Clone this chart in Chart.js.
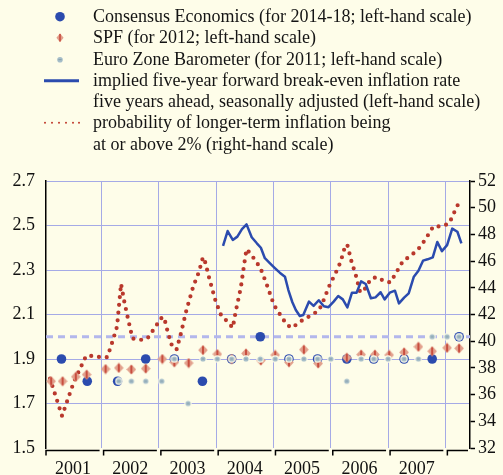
<!DOCTYPE html>
<html>
<head>
<meta charset="utf-8">
<script src="https://cdn.jsdelivr.net/npm/chart.js@4/dist/chart.umd.min.js"></script>
<style>
  html, body { margin: 0; padding: 0; background: #FEFDE9; }
  #wrap { position: relative; width: 503px; height: 475px; overflow: hidden; background: #FEFDE9; }
  #chart { position: absolute; left: 0; top: 0; }
  #legend { position: absolute; left: 0; top: 6px; font-family: "Liberation Serif", "Times New Roman", serif;
            font-size: 18px; line-height: 21.3px; color: #141414; }
  .row { position: relative; height: 21.3px; padding-left: 93px; white-space: nowrap; }
  .row svg { position: absolute; top: 0; left: 0; }
</style>
</head>
<body>
<div id="wrap">
  <canvas id="chart" width="503" height="475"></canvas>
  <div id="legend">
    <div class="row"><svg width="90" height="22"><circle cx="60" cy="10.7" r="4.8" fill="#2B4BAE"/></svg>Consensus Economics (for 2014-18; left-hand scale)</div>
    <div class="row"><svg width="90" height="22"><polygon points="60,6.2 63.6,10.7 60,15.2 56.4,10.7" fill="#E2A08C"/><line x1="60" y1="7" x2="60" y2="14.4" stroke="#C23A2C" stroke-width="1.3"/></svg>SPF (for 2012; left-hand scale)</div>
    <div class="row"><svg width="90" height="22"><circle cx="60" cy="10.7" r="2.8" fill="#A6BEC9"/><line x1="58.4" y1="10.7" x2="61.6" y2="10.7" stroke="#7F98A6" stroke-width="0.9"/></svg>Euro Zone Barometer (for 2011; left-hand scale)</div>
    <div class="row"><svg width="90" height="22"><line x1="44" y1="10.7" x2="79" y2="10.7" stroke="#2B4BAE" stroke-width="3"/></svg>implied five-year forward break-even inflation rate</div>
    <div class="row">five years ahead, seasonally adjusted (left-hand scale)</div>
    <div class="row"><svg width="90" height="22"><g fill="#C0392B"><circle cx="45" cy="10.7" r="1"/><circle cx="52" cy="10.7" r="1"/><circle cx="59" cy="10.7" r="1"/><circle cx="66" cy="10.7" r="1"/><circle cx="73" cy="10.7" r="1"/><circle cx="79" cy="10.7" r="1"/></g></svg>probability of longer-term inflation being</div>
    <div class="row">at or above 2% (right-hand scale)</div>
  </div>
</div>
<script>
// Horizontal axis: decimal years
const xMin = 2001.03;
const xMax = 2008.43;
const yearLabels = [2001, 2002, 2003, 2004, 2005, 2006, 2007];
const yearBoundaries = [2002, 2003, 2004, 2005, 2006, 2007, 2008];

// Tick values
const leftTicks = [1.5, 1.7, 1.9, 2.1, 2.3, 2.5, 2.7];
const rightTicks = [32, 34, 36, 38, 40, 42, 44, 46, 48, 50, 52];

// 2% reference level (left-hand scale)
const referenceLevel = 2.0;

// Consensus Economics (for 2014-18), % p.a.
const consensusDates = [2001.30, 2001.75, 2002.28, 2002.77, 2003.27, 2003.76, 2004.27, 2004.77,
                        2005.27, 2005.77, 2006.28, 2006.75, 2007.28, 2007.77, 2008.24];
const consensusValues = [1.9, 1.8, 1.8, 1.9, 1.9, 1.8, 1.9, 2.0,
                         1.9, 1.9, 1.9, 1.9, 1.9, 1.9, 2.0];

// SPF (for 2012), % p.a.
const spfDates = [2001.12, 2001.32, 2001.55, 2001.74, 2002.07, 2002.30, 2002.52, 2002.77,
                  2003.06, 2003.27, 2003.52, 2003.77, 2004.02, 2004.27, 2004.52, 2004.78,
                  2005.03, 2005.27, 2005.53, 2005.78, 2006.28, 2006.53, 2006.77,
                  2007.02, 2007.28, 2007.53, 2007.77, 2008.03, 2008.24];
const spfValues = [1.80, 1.80, 1.82, 1.83, 1.855, 1.86, 1.853, 1.857,
                   1.90, 1.885, 1.882, 1.94, 1.922, 1.90, 1.925, 1.893,
                   1.918, 1.885, 1.942, 1.88, 1.906, 1.92, 1.92,
                   1.918, 1.93, 1.955, 1.935, 1.95, 1.948];

// Euro Zone Barometer (for 2011), % p.a.
const barometerDates = [2002.30, 2002.52, 2002.77, 2003.05, 2003.27, 2003.51, 2003.77,
                        2004.02, 2004.27, 2004.52, 2004.77, 2005.03, 2005.27, 2005.53, 2005.77,
                        2006.00, 2006.28, 2006.53, 2006.75, 2007.00, 2007.28, 2007.53, 2007.77,
                        2008.03, 2008.24];
const barometerValues = [1.8, 1.8, 1.8, 1.8, 1.9, 1.7, 1.9,
                         1.9, 1.9, 1.9, 1.9, 1.9, 1.9, 1.9, 1.9,
                         1.9, 1.8, 1.9, 1.9, 1.9, 1.9, 1.9, 2.0,
                         2.0, 2.0];

// Implied five-year forward break-even inflation rate five years ahead, s.a., % p.a.
const breakEvenDates = [2004.12, 2004.20, 2004.29, 2004.37, 2004.45, 2004.53, 2004.62, 2004.71,
                        2004.78, 2004.85, 2004.94, 2005.02, 2005.11, 2005.20, 2005.26, 2005.33,
                        2005.39, 2005.46, 2005.52, 2005.62, 2005.70, 2005.79, 2005.88, 2005.96,
                        2006.05, 2006.13, 2006.21, 2006.29, 2006.37, 2006.45, 2006.53, 2006.61,
                        2006.70, 2006.78, 2006.87, 2006.94, 2007.03, 2007.12, 2007.19, 2007.28,
                        2007.36, 2007.45, 2007.53, 2007.61, 2007.69, 2007.78, 2007.86, 2007.94,
                        2008.03, 2008.12, 2008.21, 2008.28];
const breakEvenValues = [2.408, 2.475, 2.435, 2.450, 2.484, 2.505, 2.447, 2.420,
                         2.400, 2.353, 2.330, 2.310, 2.288, 2.270, 2.210, 2.155,
                         2.120, 2.093, 2.098, 2.158, 2.139, 2.164, 2.137, 2.133,
                         2.158, 2.183, 2.168, 2.132, 2.198, 2.198, 2.249, 2.237,
                         2.173, 2.177, 2.200, 2.168, 2.198, 2.207, 2.150, 2.176,
                         2.195, 2.270, 2.297, 2.342, 2.348, 2.357, 2.426, 2.385,
                         2.412, 2.486, 2.472, 2.420];

// Probability of longer-term inflation at or above 2%, %
const probabilityDates = [2001.10, 2001.31, 2001.52, 2001.62, 2001.73, 2001.85, 2001.99, 2002.10,
                          2002.20, 2002.27, 2002.34, 2002.39, 2002.45, 2002.54, 2002.68, 2002.80,
                          2002.96, 2003.03, 2003.09, 2003.16, 2003.24, 2003.31, 2003.38, 2003.48,
                          2003.60, 2003.70, 2003.77, 2003.81, 2003.88, 2003.99, 2004.09, 2004.19,
                          2004.29, 2004.34, 2004.43, 2004.49, 2004.53, 2004.61, 2004.69, 2004.77,
                          2004.87, 2005.01, 2005.16, 2005.24, 2005.33, 2005.44, 2005.56, 2005.68,
                          2005.79, 2005.85, 2005.97, 2006.14, 2006.22, 2006.25, 2006.29, 2006.36,
                          2006.44, 2006.51, 2006.57, 2006.63, 2006.71, 2006.81, 2006.93, 2007.04,
                          2007.11, 2007.26, 2007.36, 2007.48, 2007.57, 2007.72, 2007.79, 2007.93,
                          2008.06, 2008.12, 2008.18, 2008.24];
const probabilityValues = [37.2, 34.4, 37.0, 37.9, 38.9, 38.9, 38.8, 38.8,
                           40.1, 41.1, 44.3, 43.1, 41.9, 40.2, 40.1, 40.2,
                           41.2, 41.7, 41.8, 40.6, 39.5, 39.4, 40.5, 42.3,
                           44.1, 45.2, 46.3, 45.9, 44.7, 43.0, 41.9, 41.5,
                           41.0, 42.2, 44.0, 45.8, 46.9, 46.5, 46.0, 45.5,
                           44.4, 42.7, 41.7, 41.2, 41.0, 41.4, 41.7, 42.0,
                           42.3, 42.8, 44.1, 45.6, 46.6, 47.2, 47.2, 46.0,
                           44.9, 43.7, 43.7, 44.2, 44.7, 44.8, 44.5, 44.4,
                           44.9, 46.0, 46.3, 46.7, 47.1, 48.1, 48.6, 48.6,
                           48.8, 49.3, 49.9, 50.4];

const pairs = (xs, ys) => xs.map((x, i) => ({ x: x, y: ys[i] }));

const BG = '#FEFDE9';
const GRID = '#A5AAE6';
const BLUE = '#2B4BAE';
const RED = '#B9382C';
const SERIF = '"Liberation Serif", "Times New Roman", serif';

// SPF diamond marker
function spfMarker() {
  const c = document.createElement('canvas');
  c.width = 10; c.height = 11;
  const g = c.getContext('2d');
  g.beginPath();
  g.moveTo(5, 0.3); g.lineTo(9.8, 5.5); g.lineTo(5, 10.7); g.lineTo(0.2, 5.5); g.closePath();
  g.fillStyle = '#E2A08C'; g.fill();
  g.strokeStyle = '#C23A2C'; g.lineWidth = 1.6;
  g.beginPath(); g.moveTo(5, 1.5); g.lineTo(5, 9.5); g.stroke();
  return c;
}
// Euro Zone Barometer marker: small grey-blue dot with a light halo
function barometerMarker() {
  const c = document.createElement('canvas');
  c.width = 8; c.height = 8;
  const g = c.getContext('2d');
  g.beginPath(); g.arc(4, 4, 3.7, 0, Math.PI * 2); g.fillStyle = BG; g.fill();
  g.beginPath(); g.arc(4, 4, 2.6, 0, Math.PI * 2); g.fillStyle = '#A6BEC9'; g.fill();
  g.strokeStyle = '#7F98A6'; g.lineWidth = 0.9;
  g.beginPath(); g.moveTo(2.6, 4); g.lineTo(5.4, 4); g.stroke();
  return c;
}

// Year brackets along the bottom axis
const bracketAxis = {
  id: 'bracketAxis',
  afterDraw(chart) {
    const { ctx, chartArea } = chart;
    const xs = chart.scales.x;
    const edges = [chartArea.left].concat(yearBoundaries.map(v => xs.getPixelForValue(v)), [chartArea.right]);
    const y = chartArea.bottom + 2.5;
    ctx.save();
    ctx.strokeStyle = '#000';
    ctx.lineWidth = 1.5;
    for (let i = 0; i < edges.length - 1; i++) {
      const a = edges[i] + (i === 0 ? 0 : 2);
      const b = edges[i + 1] - 2;
      ctx.beginPath();
      ctx.moveTo(a, y + 5);
      ctx.lineTo(a, y);
      ctx.lineTo(b, y);
      ctx.stroke();
    }
    ctx.restore();
  }
};

new Chart(document.getElementById('chart'), {
  data: {
    datasets: [
      {
        type: 'line', label: 'reference', yAxisID: 'y',
        data: [{ x: xMin, y: referenceLevel }, { x: xMax, y: referenceLevel }],
        borderColor: '#B3B7EC', borderWidth: 3, borderDash: [7, 5],
        pointRadius: 0, order: 7
      },
      {
        type: 'line', label: 'probability', yAxisID: 'yR',
        data: pairs(probabilityDates, probabilityValues),
        borderColor: RED, borderWidth: 4.2, borderDash: [0, 7.8], borderCapStyle: 'round',
        pointRadius: 0, tension: 0, order: 6
      },
      {
        type: 'line', label: 'break-even', yAxisID: 'y',
        data: pairs(breakEvenDates, breakEvenValues),
        borderColor: BLUE, borderWidth: 2.5, borderJoinStyle: 'round',
        pointRadius: 0, tension: 0, order: 5
      },
      {
        type: 'scatter', label: 'Consensus Economics', yAxisID: 'y',
        data: pairs(consensusDates, consensusValues),
        pointStyle: 'circle', pointRadius: 4.8, pointBorderWidth: 0,
        backgroundColor: BLUE, borderColor: BLUE, order: 4
      },
      {
        type: 'scatter', label: 'SPF', yAxisID: 'y',
        data: pairs(spfDates, spfValues),
        pointStyle: spfMarker(), order: 3
      },
      {
        type: 'scatter', label: 'Euro Zone Barometer', yAxisID: 'y',
        data: pairs(barometerDates, barometerValues),
        pointStyle: barometerMarker(), order: 2
      }
    ]
  },
  options: {
    responsive: false,
    animation: false,
    events: [],
    layout: { padding: { top: 181, left: 0, right: 0, bottom: 0 } },
    plugins: { legend: { display: false }, tooltip: { enabled: false } },
    scales: {
      x: {
        type: 'linear', min: xMin, max: xMax,
        afterBuildTicks(scale) {
          const t = yearBoundaries.map(v => ({ value: v })).concat(yearLabels.map(v => ({ value: v + 0.5 })));
          t.sort((a, b) => a.value - b.value);
          scale.ticks = t;
        },
        afterFit(scale) { scale.height = 27; },
        grid: {
          color: c => (c.tick && Number.isInteger(c.tick.value)) ? GRID : 'rgba(0,0,0,0)',
          lineWidth: 1, drawTicks: false
        },
        border: { display: false },
        ticks: {
          autoSkip: false, maxRotation: 0, padding: 10, color: '#111',
          font: { family: SERIF, size: 18 },
          callback: v => Number.isInteger(v) ? '' : String(Math.floor(v))
        }
      },
      y: {
        type: 'linear', position: 'left', min: 1.5, max: 2.7,
        afterBuildTicks(scale) { scale.ticks = leftTicks.map(v => ({ value: v })); },
        afterFit(scale) { scale.width = 46; },
        grid: {
          color: c => (c.tick && c.tick.value > 1.55) ? GRID : 'rgba(0,0,0,0)',
          lineWidth: 1, drawTicks: false
        },
        border: { display: true, color: '#000', width: 1.5 },
        ticks: {
          padding: 11, color: '#111', font: { family: SERIF, size: 18 },
          callback: v => v.toFixed(1)
        }
      },
      yR: {
        type: 'linear', position: 'right', min: 32, max: 52,
        afterBuildTicks(scale) { scale.ticks = rightTicks.map(v => ({ value: v })); },
        afterFit(scale) { scale.width = 33; },
        grid: { drawOnChartArea: false, drawTicks: true, tickLength: 5, tickColor: '#000', tickWidth: 1.5 },
        border: { display: true, color: '#000', width: 1.5 },
        ticks: {
          padding: 3, color: '#111', font: { family: SERIF, size: 18 },
          callback: v => String(v)
        }
      }
    }
  },
  plugins: [bracketAxis]
});
</script>
</body>
</html>
